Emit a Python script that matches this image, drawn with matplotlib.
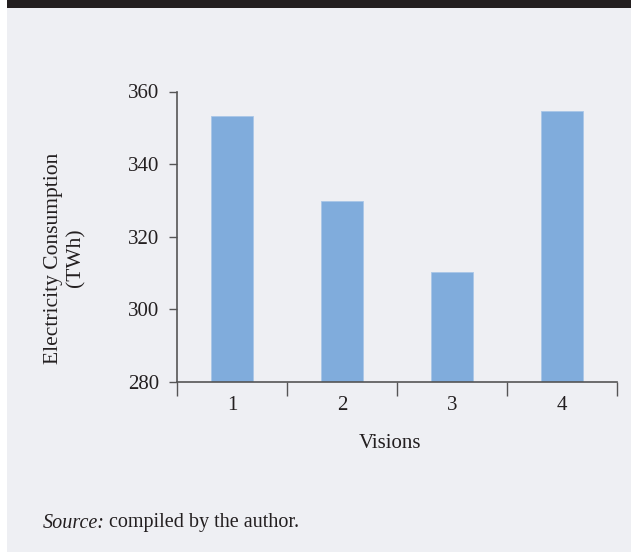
import numpy as np
import matplotlib.pyplot as plt
import matplotlib.patches as mpatches

# Electricity consumption per vision
visions = ['1', '2', '3', '4']
consumption = [353.3, 329.8, 310.4, 354.7]
y_ticks = [280, 300, 320, 340, 360]

plt.rcParams['font.family'] = ['Liberation Serif', 'DejaVu Serif']

W, H = 631, 552
fig = plt.figure(figsize=(W / 100, H / 100), dpi=100)
fig.patch.set_facecolor('white')

# light panel with dark band on top
fig.add_artist(mpatches.Rectangle((7 / W, 0), 1 - 7 / W, 1, transform=fig.transFigure,
                                  facecolor='#eeeff3', edgecolor='none', zorder=-2))
fig.add_artist(mpatches.Rectangle((7 / W, 1 - 8 / H), 1 - 7 / W, 8 / H, transform=fig.transFigure,
                                  facecolor='#231f20', edgecolor='none', zorder=-1))

ax = fig.add_axes([177 / W, 1 - 382 / H, (617 - 177) / W, (382 - 91.5) / H])
ax.patch.set_alpha(0)

x = np.arange(len(visions))
ax.bar(x, consumption, width=0.38, bottom=0, color='#80acdc', edgecolor='#a9c7e8', linewidth=0.6)

ax.set_ylim(280, 360)
ax.set_xlim(-0.5, len(visions) - 0.5)
ax.set_yticks(y_ticks)
ax.set_yticklabels([str(t) for t in y_ticks], fontsize=15, color='#231f20')
ax.tick_params(axis='y', direction='out', length=6, width=1, color='#555555', pad=7)

# category labels centred, ticks on category boundaries
ax.set_xticks(np.arange(-0.5, len(visions)), minor=False)
ax.set_xticklabels([''] * (len(visions) + 1))
ax.set_xticks(x, minor=True)
ax.set_xticklabels(visions, minor=True, fontsize=15, color='#231f20')
ax.tick_params(axis='x', which='major', direction='out', length=10, width=1, color='#555555')
ax.tick_params(axis='x', which='minor', length=0, pad=10)

for side in ['top', 'right']:
    ax.spines[side].set_visible(False)
for side in ['left', 'bottom']:
    ax.spines[side].set_color('#555555')
    ax.spines[side].set_linewidth(1.2)

fig.text(390 / W, 1 - 443 / H, 'Visions', ha='center', va='center', fontsize=15, color='#231f20')
fig.text(65 / W, 1 - 258 / H, 'Electricity Consumption\n(TWh)', ha='center', va='center',
         rotation=90, fontsize=15.5, color='#231f20', linespacing=1.2)

# source note: italic lead-in followed by plain text
src = fig.text(43 / W, 1 - 523 / H, 'Source:', ha='left', va='center', fontsize=14.5,
               style='italic', color='#231f20')
fig.canvas.draw()
bb = src.get_window_extent()
fig.text((bb.x1 + 4) / W, 1 - 523 / H, 'compiled by the author.', ha='left', va='center',
         fontsize=14.5, color='#231f20')

fig.savefig('out.png', dpi=100)
